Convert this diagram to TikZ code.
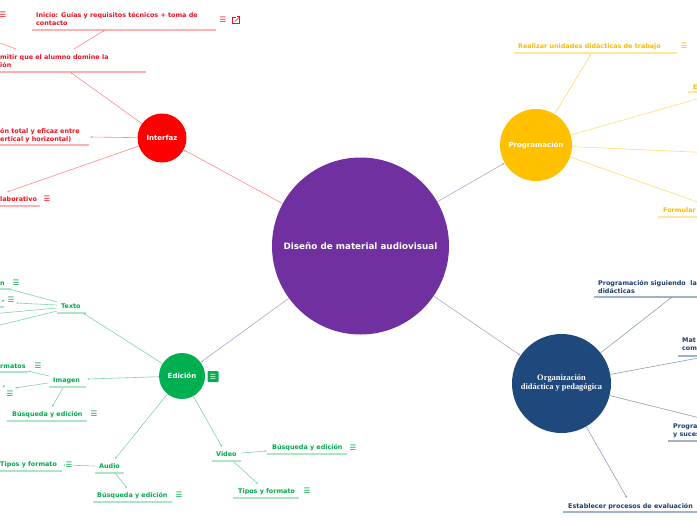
\documentclass[tikz,border=0pt]{standalone}
\usepackage{fontspec}
\setmainfont{DejaVu Sans}
\newfontfamily\serifb{Liberation Serif}
\usetikzlibrary{arrows.meta}
\definecolor{purp}{HTML}{7030A0}
\definecolor{purpcon}{HTML}{B9A0DA}
\definecolor{redc}{HTML}{FF0000}
\definecolor{redtx}{HTML}{EE1122}
\definecolor{redul}{HTML}{FFB0B0}
\definecolor{redcon}{HTML}{FF8A8A}
\definecolor{yelc}{HTML}{FFC000}
\definecolor{yeltx}{HTML}{F8BC00}
\definecolor{yelul}{HTML}{FFE7A0}
\definecolor{yelcon}{HTML}{FFDC70}
\definecolor{bluc}{HTML}{1F497D}
\definecolor{blutx}{HTML}{1F3D6E}
\definecolor{bluul}{HTML}{A3B1C8}
\definecolor{blucon}{HTML}{8E9FBD}
\definecolor{grnc}{HTML}{00B050}
\definecolor{grntx}{HTML}{00AA4E}
\definecolor{grnul}{HTML}{AEE5C6}
\definecolor{grncon}{HTML}{80D5A6}
\tikzset{
  hub/.style={circle, inner sep=0pt, text=white, font=\fontsize{7}{8}\selectfont\bfseries},
  txt/.style={font=\fontsize{6.4}{8}\selectfont\bfseries, inner sep=0pt, align=left},
  rt/.style={txt, text=redtx},
  yt/.style={txt, text=yeltx},
  bt/.style={txt, text=blutx},
  gt/.style={txt, text=grntx},
  ic/.style={font=\fontsize{7.5}{8}\selectfont, inner sep=0pt},
  ul/.style={line width=1.4pt},
  con/.style={line width=0.6pt, -{Latex[length=2.2pt,width=2pt]}},
  rcon/.style={con, draw=redcon},
  ycon/.style={con, draw=yelcon},
  bcon/.style={con, draw=blucon},
  gcon/.style={con, draw=grncon},
  pcon/.style={con, draw=purpcon},
}
\begin{document}
\begin{tikzpicture}[x=1pt,y=-1pt]
\path[use as bounding box, fill=white] (0,0) rectangle (697,520);
\clip (0,0) rectangle (697,520);

% main circles
\node[circle, fill=purp, minimum size=177, inner sep=0pt, text=white, font=\fontsize{8.8}{10}\selectfont\bfseries] (central) at (360.5,246) {Diseño de material audiovisual};
\node[hub, fill=redc, minimum size=49] (int) at (162,138) {Interfaz};
\node[hub, fill=yelc, minimum size=72] (prog) at (536,145) {Programación};
\node[hub, fill=bluc, minimum size=99, font=\serifb\fontsize{8.4}{9}\selectfont\bfseries, align=center] (org) at (561.5,383.5) {Organización\\didáctica y pedagógica};
\node[hub, fill=grnc, minimum size=46] (edi) at (182,376) {Edición};
\node[fill=grnc, rounded corners=1pt, minimum size=11, inner sep=0pt, text=white, font=\fontsize{7}{8}\selectfont] (edinote) at (213,376.5) {☰};

% ---------- Interfaz branch
\node[rt, anchor=north west] (inicio) at (36,12) {Inicio: Guías y requisitos técnicos + toma de\\contacto};
\draw[ul, redul] (32,30) -- (216,30);
\node[ic, text=redtx] (inicioi) at (223,20) {☰};
\draw[redtx, line width=0.6pt] (236,17) -- (232.5,17) -- (232.5,23.5) -- (239,23.5) -- (239,20);
\draw[redtx, line width=0.6pt] (235,21.5) -- (239.5,17);
\draw[redtx, line width=0.6pt] (236.5,16.5) -- (239.5,16.5) -- (239.5,19.5);
\node[ic, text=redtx] (offli) at (3,15) {☰};
\node[rt, anchor=north west] (permitir) at (0,54) {mitir que el alumno domine la\\ión};
\draw[ul, redul] (0,72) -- (146,72);
\node[rt, anchor=north west] (inter) at (0,128) {ón total y eficaz entre\\ertical y horizontal)};
\draw[ul, redul] (0,145) -- (89,145);
\node[rt, anchor=mid west] (colab) at (0,199) {laborativo};
\node[ic, text=redtx] (colabi) at (47,199) {☰};
\draw[ul, redul] (0,206) -- (40,206);

\coordinate (permitira) at (70,72);
\coordinate (permitirt) at (74,49);
\coordinate (inicioa) at (105,30);
\coordinate (permitirl) at (16,49);
\coordinate (offla) at (-30,32);
\coordinate (intera) at (90,137);
\coordinate (colaba) at (7,192);
\draw[rcon] (central) -- (int);
\draw[rcon] (int) -- (permitira);
\draw[rcon] (permitirt) -- (inicioa);
\draw[rcon] (permitirl) -- (offla);
\draw[rcon] (int) -- (intera);
\draw[rcon] (int) -- (colaba);

% ---------- Programacion branch
\node[yt, anchor=mid west] (realizar) at (518,46) {Realizar unidades didácticas de trabajo};
\node[ic, text=yeltx] (realizari) at (684,46) {☰};
\draw[ul, yelul] (514,53) -- (677,53);
\node[yt, anchor=mid west] (ee) at (693,87) {E};
\draw[ul, yelul] (688,92) -- (720,92);
\node[yt, anchor=mid west] (formular) at (663,210) {Formular};
\draw[ul, yelul] (658,217) -- (720,217);
\coordinate (realizara) at (591,54);
\coordinate (eea) at (725,91);
\coordinate (ythreea) at (760,155);
\coordinate (formulara) at (740,217);
\draw[pcon] (central) -- (prog);
\draw[ycon] (prog) -- (realizara);
\draw[ycon] (prog) -- (eea);
\draw[ycon] (prog) -- (ythreea);
\draw[ycon] (prog) -- (formulara);

% ---------- Organizacion branch
\node[bt, anchor=north west] (progsig) at (598,280) {Programación siguiendo~ la\\didácticas};
\draw[ul, bluul] (594,297) -- (697,297);
\node[bt, anchor=north west] (mat) at (682,338) {Mat\\com};
\draw[ul, bluul] (678,356) -- (697,356);
\node[bt, anchor=north west] (progra) at (673,424) {Progra\\y suces};
\draw[ul, bluul] (668,441) -- (697,441);
\node[bt, anchor=mid west] (estab) at (568,506) {Establecer procesos de evaluación};
\draw[ul, bluul] (563,512) -- (697,512);
\coordinate (progsiga) at (672,297);
\coordinate (mata) at (720,354);
\coordinate (progra-a) at (740,428);
\coordinate (estaba) at (627,498);
\draw[pcon] (central) -- (org);
\draw[bcon] (org) -- (progsiga);
\draw[bcon] (org) -- (mata);
\draw[bcon] (org) -- (progra-a);
\draw[bcon] (org) -- (estaba);

% ---------- Edicion branch
\node[gt, anchor=mid west] (texto) at (61,306) {Texto};
\draw[ul, grnul] (57,313) -- (86,313);
\node[gt, anchor=mid west] (tn) at (0,283) {n};
\node[ic, text=grntx] (tni) at (16,283) {☰};
\draw[ul, grnul] (0,289) -- (10,289);
\node[gt, anchor=mid west] (tc) at (2,299) {,};
\node[ic, text=grntx] (tci) at (11,300) {☰};
\draw[ul, grnul] (0,307) -- (4,307);

\node[gt, anchor=mid west] (imagen) at (53,380) {Imagen};
\draw[ul, grnul] (49,387) -- (86,387);
\node[gt, anchor=mid west] (rmatos) at (0,366) {rmatos};
\node[ic, text=grntx] (rmatosi) at (38,366) {☰};
\draw[ul, grnul] (0,372) -- (28,372);
\node[gt] (iq) at (4,388) {’};
\node[ic, text=grntx] (iqi) at (10,394) {☰};
\node[gt, anchor=mid west] (ibus) at (12,414) {Búsqueda y edición};
\node[ic, text=grntx] (ibusi) at (94,414) {☰};
\draw[ul, grnul] (7,421) -- (87,421);

\node[gt, anchor=mid west] (audio) at (99,466) {Audio};
\draw[ul, grnul] (95,473) -- (124,473);
\node[gt, anchor=mid west] (atipos) at (0,464) {Tipos y formato};
\draw[ul, grnul] (0,471) -- (62,471);
\node[gt, anchor=mid west] (abus) at (97,495) {Búsqueda y edición};
\node[ic, text=grntx] (abusi) at (179,495) {☰};
\draw[ul, grnul] (93,502) -- (172,502);

\node[gt, anchor=mid west] (video) at (216,454) {Video};
\draw[ul, grnul] (212,461) -- (241,461);
\node[gt, anchor=mid west] (vbus) at (272,447) {Búsqueda y edición};
\node[ic, text=grntx] (vbusi) at (353,448) {☰};
\draw[ul, grnul] (267,454) -- (347,454);
\node[gt, anchor=mid west] (vtipos) at (238,491) {Tipos y formato};
\node[ic, text=grntx] (vtiposi) at (307,491) {☰};
\draw[ul, grnul] (233,498) -- (299,498);

\coordinate (textoa) at (83,313);
\coordinate (textol1) at (57,302);
\coordinate (textol2) at (57,305);
\coordinate (textol3) at (57,308);
\coordinate (textol4) at (57,311);
\coordinate (tna) at (9,289);
\coordinate (tca) at (16,303);
\coordinate (tthreea) at (-20,315);
\coordinate (tfoura) at (-20,330);
\coordinate (imagena) at (87,379);
\coordinate (imagenl1) at (49,376);
\coordinate (imagenl2) at (48,383);
\coordinate (imagenb) at (63,388);
\coordinate (rmatosa) at (28,371);
\coordinate (iqa) at (15,388);
\coordinate (ibusa) at (52,407);
\coordinate (audioa) at (115,459);
\coordinate (audiol) at (95,466);
\coordinate (audiob) at (115,473);
\coordinate (atiposa) at (63,465);
\coordinate (abusa) at (127,488);
\coordinate (videoa) at (222,447);
\coordinate (videor) at (241,453);
\coordinate (videob) at (234,462);
\coordinate (vbusa) at (267,451);
\coordinate (vtiposa) at (258,484);

\draw[pcon] (central) -- (edi);
\draw[gcon] (edi) -- (textoa);
\draw[gcon] (textol1) -- (tna);
\draw[gcon] (textol2) -- (tca);
\draw[gcon] (textol3) -- (tthreea);
\draw[gcon] (textol4) -- (tfoura);
\draw[gcon] (edi) -- (imagena);
\draw[gcon] (imagenl1) -- (rmatosa);
\draw[gcon] (imagenl2) -- (iqa);
\draw[gcon] (imagenb) -- (ibusa);
\draw[gcon] (edi) -- (audioa);
\draw[gcon] (audiol) -- (atiposa);
\draw[gcon] (audiob) -- (abusa);
\draw[gcon] (edi) -- (videoa);
\draw[gcon] (videor) -- (vbusa);
\draw[gcon] (videob) -- (vtiposa);
\node[ic, text=grntx, fill=white, inner sep=0.5pt] (atiposi) at (69,465) {☰};
\end{tikzpicture}
\end{document}
